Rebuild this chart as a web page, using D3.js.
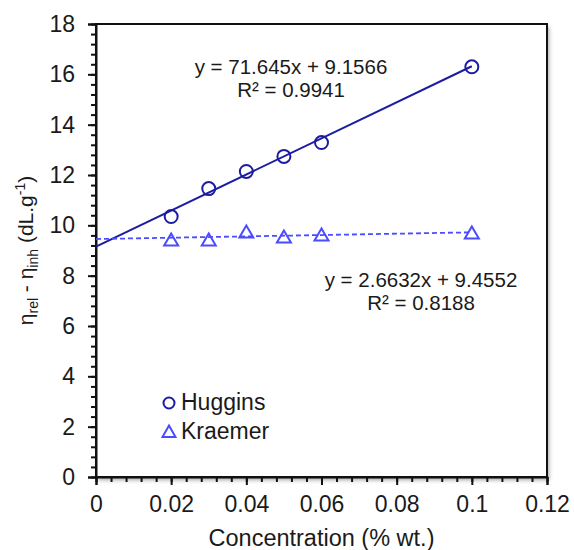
<!DOCTYPE html>
<html>
<head>
<meta charset="utf-8">
<script src="https://cdn.jsdelivr.net/npm/d3@7"></script>
<style>
  body { margin: 0; background: #fff; }
  text { font-family: "Liberation Sans", Arial, sans-serif; fill: #1a1a1a; }
</style>
</head>
<body>
<div class="chart"></div>
<script>
// data
var concentration = [0.02, 0.03, 0.04, 0.05, 0.06, 0.1];
var huggins = [10.35, 11.46, 12.14, 12.74, 13.29, 16.3];
var kraemer = [9.4, 9.4, 9.72, 9.52, 9.6, 9.68];
var hugginsFit = { slope: 71.645, intercept: 9.1566 };
var kraemerFit = { slope: 2.6632, intercept: 9.4552 };
var xTicks = [0, 0.02, 0.04, 0.06, 0.08, 0.1, 0.12];
var yTicks = [0, 2, 4, 6, 8, 10, 12, 14, 16, 18];

var svgWidth = 574, svgHeight = 550;
var margin = { top: 24, right: 27, bottom: 73, left: 96 };
var width = svgWidth - margin.left - margin.right;
var height = svgHeight - margin.top - margin.bottom;

var darkBlue = "#1c1ca3";
var lightBlue = "#4b4bff";

var svg = d3.select(".chart").append("svg")
  .attr("width", svgWidth)
  .attr("height", svgHeight);

var defs = svg.append("defs");
var filt = defs.append("filter").attr("id", "shadow")
  .attr("x", "-5%").attr("y", "-5%").attr("width", "115%").attr("height", "115%");
filt.append("feDropShadow").attr("dx", 2).attr("dy", 3).attr("stdDeviation", 2)
  .attr("flood-color", "#000").attr("flood-opacity", 0.35);

var chartGroup = svg.append("g")
  .attr("transform", `translate(${margin.left}, ${margin.top})`);

var x = d3.scaleLinear().domain([0, 0.12]).range([0, width]);
var y = d3.scaleLinear().domain([0, 18]).range([height, 0]);

// plot area with shadow
chartGroup.append("rect")
  .attr("width", width).attr("height", height)
  .attr("fill", "#fff")
  .attr("filter", "url(#shadow)");
chartGroup.append("rect")
  .attr("width", width).attr("height", height)
  .attr("fill", "none").attr("stroke", "#111").attr("stroke-width", 2);

// minor ticks
var xMinor = d3.range(0, 0.1201, 0.004);
var yMinor = d3.range(0, 18.01, 0.4);

chartGroup.append("g").attr("transform", `translate(0, ${height})`)
  .call(d3.axisBottom(x).tickValues(xMinor).tickSize(5).tickFormat(""))
  .call(g => g.select(".domain").remove());
chartGroup.append("g")
  .call(d3.axisLeft(y).tickValues(yMinor).tickSize(5).tickFormat(""))
  .call(g => g.select(".domain").remove());

// major axes
var xAxis = chartGroup.append("g").attr("transform", `translate(0, ${height})`)
  .call(d3.axisBottom(x).tickValues(xTicks).tickSize(8).tickPadding(11)
    .tickFormat(d => d3.format("~g")(d)));
var yAxis = chartGroup.append("g")
  .call(d3.axisLeft(y).tickValues(yTicks).tickSize(8).tickPadding(13));

[xAxis, yAxis].forEach(function (ax) {
  ax.select(".domain").attr("stroke", "#111").attr("stroke-width", 2);
  ax.selectAll("text").style("font-family", "Liberation Sans, Arial, sans-serif")
    .style("font-size", "23px").attr("fill", "#1a1a1a");
});
chartGroup.selectAll(".tick line").attr("stroke", "#111").attr("stroke-width", 2);

// trend lines
var line = d3.line().x(d => x(d[0])).y(d => y(d[1]));
chartGroup.append("path")
  .datum([0, 0.1].map(c => [c, hugginsFit.slope * c + hugginsFit.intercept]))
  .attr("d", line).attr("fill", "none")
  .attr("stroke", darkBlue).attr("stroke-width", 2);
chartGroup.append("path")
  .datum([0, 0.1].map(c => [c, kraemerFit.slope * c + kraemerFit.intercept]))
  .attr("d", line).attr("fill", "none")
  .attr("stroke", lightBlue).attr("stroke-width", 1.8)
  .attr("stroke-dasharray", "5,3");

// markers
var triPath = "M0,-7L7,5L-7,5Z";

chartGroup.selectAll(".kraemer")
  .data(concentration)
  .enter().append("path")
  .attr("class", "kraemer")
  .attr("d", triPath)
  .attr("transform", (d, i) => `translate(${x(d)}, ${y(kraemer[i])})`)
  .attr("fill", "none").attr("stroke", lightBlue).attr("stroke-width", 2);

chartGroup.selectAll(".huggins")
  .data(concentration)
  .enter().append("circle")
  .attr("class", "huggins")
  .attr("cx", d => x(d))
  .attr("cy", (d, i) => y(huggins[i]))
  .attr("r", 6.5)
  .attr("fill", "none").attr("stroke", darkBlue).attr("stroke-width", 2);

// equations
function eq(cx, cy, lines) {
  chartGroup.selectAll(null).data(lines).enter().append("text")
    .attr("x", cx - margin.left)
    .attr("y", (d, i) => cy - margin.top + i * 23)
    .attr("text-anchor", "middle")
    .style("font-size", "20.5px")
    .text(d => d);
}
eq(291, 74, ["y = 71.645x + 9.1566", "R² = 0.9941"]);
eq(421, 287, ["y = 2.6632x + 9.4552", "R² = 0.8188"]);

// legend
var legend = svg.append("g");
legend.append("circle").attr("cx", 169).attr("cy", 403).attr("r", 5.5)
  .attr("fill", "none").attr("stroke", darkBlue).attr("stroke-width", 2);
legend.append("text").attr("x", 181).attr("y", 410).style("font-size", "23px").text("Huggins");
legend.append("path").attr("d", "M0,-6.5L6.5,5L-6.5,5Z")
  .attr("transform", "translate(169, 432)")
  .attr("fill", "none").attr("stroke", lightBlue).attr("stroke-width", 2);
legend.append("text").attr("x", 181).attr("y", 439).style("font-size", "23px").text("Kraemer");

// axis labels
svg.append("text")
  .attr("x", margin.left + width / 2)
  .attr("y", 546)
  .attr("text-anchor", "middle")
  .style("font-size", "23.5px")
  .text("Concentration (% wt.)");

var yl = svg.append("text")
  .attr("transform", `translate(33, ${margin.top + height / 2}) rotate(-90)`)
  .attr("text-anchor", "middle")
  .style("font-size", "21px");
yl.append("tspan").text("η");
yl.append("tspan").attr("dy", 5).style("font-size", "14px").text("rel");
yl.append("tspan").attr("dy", -5).text(" - η");
yl.append("tspan").attr("dy", 5).style("font-size", "14px").text("inh");
yl.append("tspan").attr("dy", -5).text(" (dL.g");
yl.append("tspan").attr("dy", -8).style("font-size", "14px").text("-1");
yl.append("tspan").attr("dy", 8).text(")");
</script>
</body>
</html>
